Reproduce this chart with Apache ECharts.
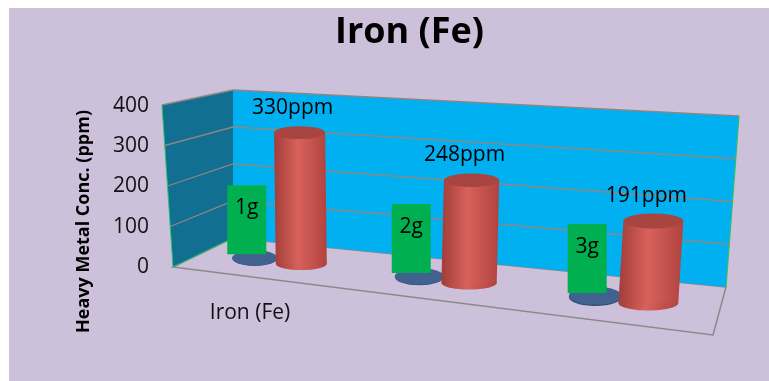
<!DOCTYPE html>
<html>
<head>
<meta charset="utf-8">
<title>Iron (Fe)</title>
<script src="https://cdn.jsdelivr.net/npm/echarts@6/dist/echarts.min.js"></script>
<style>
  html, body { margin: 0; padding: 0; background: #fff; }
  #chart { width: 769px; height: 381px; }
</style>
</head>
<body>
<div id="chart"></div>
<script>
// chart data
var categories = ['Iron (Fe)', '', '']
var massLabels = ['1g', '2g', '3g']
var massValues = [1, 2, 3]
var ironValues = [330, 248, 191]
var yTicks = [0, 100, 200, 300, 400]

var FONT = '"Open Sans", "Noto Sans", sans-serif'

// pixel corners of the fake 3d box (f = front, b = back, b/t = bottom/top)
var box = {
  fbl: [173, 267], fbr: [713, 335], ftl: [162, 105], ftr: [726, 157],
  bbl: [233, 238], bbr: [726, 287], btl: [233, 90], btr: [739, 116]
}

function lerp(a, b, t) {
  return [a[0] + (b[0] - a[0]) * t, a[1] + (b[1] - a[1]) * t]
}
// u across, v up, w into depth (0 front .. 1 back)
function proj(u, v, w) {
  u = u - 0.1 * u * (1 - u) // a bit of perspective squeeze
  var f = lerp(lerp(box.fbl, box.fbr, u), lerp(box.ftl, box.ftr, u), v)
  var b = lerp(lerp(box.bbl, box.bbr, u), lerp(box.btl, box.btr, u), v)
  return lerp(f, b, w)
}
// grid pixel -> unit coords
function toUV(params, api, x, y) {
  var cs = params.coordSys
  var p = api.coord([x, y])
  return [(p[0] - cs.x) / cs.width, (cs.y + cs.height - p[1]) / cs.height]
}

function renderWalls(params, api) {
  var children = []
  children.push({
    type: 'polygon',
    shape: { points: [proj(0, 0, 0), proj(1, 0, 0), proj(1, 0, 1), proj(0, 0, 1)] },
    style: { fill: '#ccc0da', stroke: '#8a8a8a', lineWidth: 1.5 }
  })
  children.push({
    type: 'polygon',
    shape: { points: [proj(0, 0, 1), proj(1, 0, 1), proj(1, 1, 1), proj(0, 1, 1)] },
    style: { fill: '#00b0f0' }
  })
  children.push({
    type: 'polygon',
    shape: { points: [proj(0, 0, 0), proj(0, 0, 1), proj(0, 1, 1), proj(0, 1, 0)] },
    style: { fill: '#116f91' }
  })
  yTicks.forEach(function (t) {
    if (t === 0) return
    var v = toUV(params, api, 0, t)[1]
    children.push({
      type: 'polyline',
      shape: { points: [proj(0, v, 0), proj(0, v, 1), proj(1, v, 1)] },
      style: { stroke: '#8f8585', lineWidth: 1.3, fill: null }
    })
  })
  children.push({
    type: 'polyline',
    shape: { points: [proj(0, 1, 0), proj(0, 0, 0), proj(0, 0, 1)] },
    style: { stroke: '#2fbf70', lineWidth: 1, fill: null }
  })
  children.push({
    type: 'polyline',
    shape: { points: [proj(1, 0, 1), proj(1, 1, 1)] },
    style: { stroke: '#2fbf70', lineWidth: 1.2, fill: null }
  })
  return { type: 'group', children: children }
}

function cylinder(params, api, offset, baseRx) {
  var cat = api.value(0)
  var val = api.value(1)
  var band = api.size([1, 0])[0] / params.coordSys.width
  var u = toUV(params, api, cat, 0)[0] + band * offset
  var v = toUV(params, api, cat, val)[1]
  var bot = proj(u, 0, 0.5)
  var top = proj(u, v, 0.5)
  var h = bot[1] - proj(u, 1, 0.5)[1]
  var rx = baseRx * Math.pow(h / 158.6, 2)
  return { bot: bot, top: top, rx: rx }
}

function renderMass(params, api) {
  var c = cylinder(params, api, -0.17, 23)
  var ry = c.rx * 0.34
  var bx = c.bot[0] - 8
  var by = c.bot[1] - 4
  return {
    type: 'group',
    children: [
      { type: 'ellipse', shape: { cx: c.bot[0], cy: c.bot[1], rx: c.rx, ry: ry }, style: { fill: '#34507a' } },
      { type: 'ellipse', shape: { cx: c.top[0], cy: c.top[1], rx: c.rx, ry: ry }, style: { fill: '#41618e' } },
      { type: 'rect', shape: { x: bx - 19.5, y: by - 69, width: 39, height: 69 }, style: { fill: '#00b050' } },
      {
        type: 'text', x: bx, y: by - 46,
        style: { text: massLabels[params.dataIndex], fontSize: 21, fontFamily: FONT, fill: '#000', align: 'center', verticalAlign: 'middle' }
      }
    ]
  }
}

function renderIron(params, api) {
  var c = cylinder(params, api, 0.12, 25.5)
  var ry = c.rx * 0.25
  var side = new echarts.graphic.LinearGradient(0, 0, 1, 0, [
    { offset: 0, color: '#a23d39' },
    { offset: 0.45, color: '#d8615c' },
    { offset: 1, color: '#b0433f' }
  ])
  return {
    type: 'group',
    children: [
      { type: 'ellipse', shape: { cx: c.bot[0], cy: c.bot[1], rx: c.rx, ry: ry }, style: { fill: side } },
      {
        type: 'polygon',
        shape: { points: [[c.bot[0] - c.rx, c.bot[1]], [c.bot[0] + c.rx, c.bot[1]], [c.top[0] + c.rx, c.top[1]], [c.top[0] - c.rx, c.top[1]]] },
        style: { fill: side }
      },
      { type: 'ellipse', shape: { cx: c.top[0], cy: c.top[1], rx: c.rx, ry: ry }, style: { fill: '#a84541' } },
      {
        type: 'text', x: c.top[0] - 7, y: c.top[1] - 25,
        style: { text: ironValues[params.dataIndex] + 'ppm', fontSize: 21, fontFamily: FONT, fill: '#000', align: 'center', verticalAlign: 'middle' }
      }
    ]
  }
}

var chart = echarts.init(document.getElementById('chart'))
chart.setOption({
  backgroundColor: '#fff',
  animation: false,
  graphic: [{
    type: 'rect', left: 9, top: 8, z: -10,
    shape: { width: 760, height: 373 },
    style: { fill: '#ccc0da' }
  }],
  title: {
    text: 'Iron (Fe)',
    left: 330,
    top: 10,
    textStyle: { fontFamily: FONT, fontWeight: 'bold', fontSize: 36, color: '#000' }
  },
  grid: { left: 173, right: 56, top: 106, bottom: 114 },
  xAxis: {
    type: 'category',
    data: categories,
    axisLine: { show: false },
    axisTick: { show: false },
    axisLabel: { fontFamily: FONT, fontSize: 21, color: '#111', margin: 36, padding: [0, 26, 0, 0] }
  },
  yAxis: {
    type: 'value',
    min: 0,
    max: 400,
    interval: 100,
    name: 'Heavy Metal Conc. (ppm)',
    nameLocation: 'middle',
    nameGap: 80,
    nameTextStyle: { fontFamily: FONT, fontWeight: 'bold', fontSize: 18, color: '#000', padding: [0, 70, 0, 0] },
    axisLine: { show: false },
    axisTick: { show: false },
    splitLine: { show: false },
    axisLabel: { fontFamily: FONT, fontSize: 21, color: '#111', margin: 24 }
  },
  series: [{
    name: 'box',
    type: 'custom',
    renderItem: renderWalls,
    clip: false,
    silent: true,
    z: 1,
    data: [[0, 0]]
  }, {
    name: 'Mass',
    type: 'custom',
    renderItem: renderMass,
    clip: false,
    z: 2,
    data: massValues.map(function (v, i) { return [i, v] })
  }, {
    name: 'Iron (Fe)',
    type: 'custom',
    renderItem: renderIron,
    clip: false,
    z: 3,
    data: ironValues.map(function (v, i) { return [i, v] })
  }]
})
</script>
</body>
</html>
